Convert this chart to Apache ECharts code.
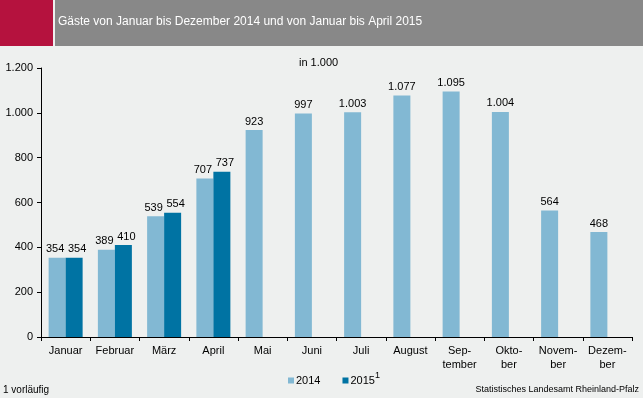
<!DOCTYPE html>
<html><head><meta charset="utf-8">
<script src="https://cdn.jsdelivr.net/npm/echarts@6/dist/echarts.min.js"></script>
<style>html,body{margin:0;padding:0;background:#eef0ef;}#c{width:643px;height:398px;}</style>
</head><body><div id="c"></div>
<script>
const categories = ['Januar','Februar','März','April','Mai','Juni','Juli','August','Sep-\ntember','Okto-\nber','Novem-\nber','Dezem-\nber'];
const values2014 = [354,389,539,707,923,997,1003,1077,1095,1004,564,468];
const values2015 = [354,410,554,737,null,null,null,null,null,null,null,null];
const yTicks = {min:0,max:1200,interval:200};

function de(v){return String(v).replace(/\B(?=(\d{3})+(?!\d))/g,'.');}
const font = 'Liberation Sans, Arial, sans-serif';
const data2014 = values2014.map((v,i)=> values2015[i]!=null ? {value:v,label:{offset:[-2,0]}} : v);
const chart = echarts.init(document.getElementById('c'));
chart.setOption({
  backgroundColor:'#eef0ef',
  animation:false,
  textStyle:{fontFamily:font},
  graphic:[
    {type:'rect',shape:{x:0,y:0,width:53,height:46},style:{fill:'#b5123e'}},
    {type:'rect',shape:{x:55,y:0,width:588,height:46},style:{fill:'#888888'}},
    {type:'text',left:58,top:16,style:{text:'Gäste von Januar bis Dezember 2014 und von Januar bis April 2015',fill:'#ffffff',font:'12px '+font}},
    {type:'text',left:299,top:57,style:{text:'in 1.000',fill:'#000',font:'11px '+font}},
    {type:'text',left:3,top:385,style:{text:'1 vorläufig',fill:'#000',font:'10px '+font}},
    {type:'text',right:4,top:385,style:{text:'Statistisches Landesamt Rheinland-Pfalz',fill:'#000',font:'9px '+font}}
  ],
  legend:{
    data:['2014','2015'],top:366,left:283,itemGap:22,itemWidth:6,itemHeight:6,icon:'rect',
    textStyle:{fontSize:11,color:'#000',fontFamily:font,padding:[0,0,0,-3],rich:{sup:{fontSize:9,verticalAlign:'top',padding:[0,0,10,0]}}},
    formatter:function(n){return n==='2015'?n+'{sup|1}':n;}
  },
  grid:{left:41,right:11,top:68,bottom:61},
  xAxis:{type:'category',data:categories,
    axisLine:{lineStyle:{color:'#000',width:1}},
    axisTick:{show:true,alignWithLabel:false,length:4,lineStyle:{color:'#000'}},
    axisLabel:{color:'#000',fontSize:11,fontFamily:font,margin:7,interval:0,lineHeight:14}},
  yAxis:{type:'value',min:yTicks.min,max:yTicks.max,interval:yTicks.interval,
    axisLine:{show:true,lineStyle:{color:'#000',width:1}},
    axisTick:{show:true,length:4,lineStyle:{color:'#000'}},
    splitLine:{show:false},
    axisLabel:{color:'#000',fontSize:11,fontFamily:font,margin:8,formatter:de}},
  series:[
    {name:'2014',type:'bar',data:data2014,barWidth:17,barGap:'0%',itemStyle:{color:'#82b8d3'},
     label:{show:true,position:'top',distance:3,color:'#000',fontSize:11,fontFamily:font,formatter:p=>de(p.value)}},
    {name:'2015',type:'bar',data:values2015,barWidth:17,barGap:'0%',itemStyle:{color:'#0073a3'},
     label:{show:true,position:'top',distance:3,offset:[3,0],color:'#000',fontSize:11,fontFamily:font,formatter:p=>de(p.value)}}
  ]
});
</script></body></html>
